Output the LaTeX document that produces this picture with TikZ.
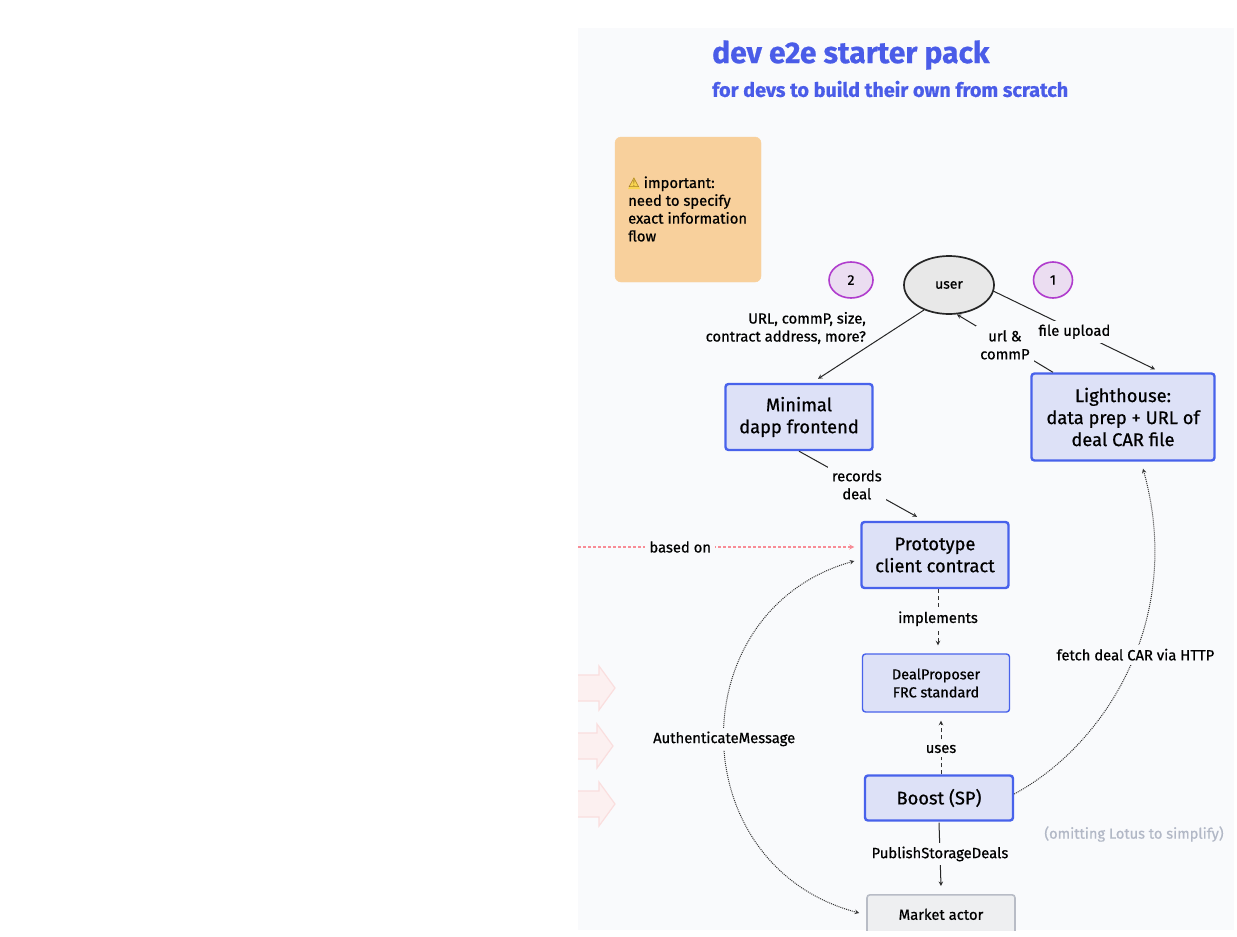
\documentclass[tikz,border=0pt]{standalone}
\usepackage{fontspec}
\usepackage{xcolor}
\usetikzlibrary{shapes.geometric}
\setmainfont[FakeBold=0.7]{Fira Sans}
\newfontfamily\markfont[FakeBold=0.7]{Fira Sans}
\newfontfamily\symbolfont{DejaVu Sans}
\definecolor{pagebg}{RGB}{249,250,252}
\definecolor{titleblue}{RGB}{74,92,232}
\definecolor{boxblue}{RGB}{221,225,247}
\definecolor{edgeblue}{RGB}{72,98,235}
\definecolor{noteorange}{RGB}{248,208,156}
\definecolor{warnyellow}{RGB}{248,212,80}
\definecolor{warnmark}{RGB}{150,110,30}
\definecolor{badgefill}{RGB}{235,221,241}
\definecolor{badgeedge}{RGB}{176,60,205}
\definecolor{usergrey}{RGB}{232,232,232}
\definecolor{actorfill}{RGB}{238,239,241}
\definecolor{actoredge}{RGB}{184,188,198}
\definecolor{basedred}{RGB}{248,140,150}
\definecolor{pinkfill}{RGB}{252,240,240}
\definecolor{pinkedge}{RGB}{250,222,222}
\definecolor{omitgrey}{RGB}{178,184,198}
\tikzset{
  bigbox/.style={draw=edgeblue, fill=boxblue, line width=2.4pt, rounded corners=3pt, align=center, font=\markfont\fontsize{18.3}{22}\selectfont, inner sep=0pt},
  thinbox/.style={draw=edgeblue, fill=boxblue, line width=1.4pt, rounded corners=3pt, align=center, font=\fontsize{14.5}{18}\selectfont, inner sep=0pt},
  badge/.style={ellipse, draw=badgeedge, fill=badgefill, line width=1.6pt, inner sep=0pt, font=\fontsize{14}{15}\selectfont},
  edgelabel/.style={fill=pagebg, align=center, inner sep=4pt, yshift=-1.5pt, font=\fontsize{14.8}{18}\selectfont},
  flow/.style={->, >=stealth, line width=1pt, draw=black!85},
  dashflow/.style={->, >=stealth, dash pattern=on 4pt off 3pt, line width=1pt, draw=black!80},
  dotflow/.style={>=stealth, densely dotted, line width=1pt, draw=black!80},
}
\begin{document}
\begin{tikzpicture}[x=1pt, y=-1pt]
  \useasboundingbox (0,0) rectangle (1237,937);
  % page
  \fill[white] (0,0) rectangle (1237,937);
  \fill[pagebg] (578,28) rectangle (1234,930);
  \begin{scope}
    \clip (578,28) rectangle (1234,930);

    % pink arrows coming in from the left
    \foreach \tipx/\ypos in {615/688, 613/746, 615/804} {
      \draw[draw=pinkedge, fill=pinkfill, line width=1.2pt]
        (570,\ypos-13) -- (\tipx-16,\ypos-13) -- (\tipx-16,\ypos-22) -- (\tipx,\ypos)
        -- (\tipx-16,\ypos+22) -- (\tipx-16,\ypos+13) -- (570,\ypos+13);
    }

    % title
    \node[anchor=west, inner sep=0pt, text=titleblue, font=\fontsize{30}{34}\selectfont\bfseries] (title) at (712,55) {dev e2e starter pack};
    \node[anchor=west, inner sep=0pt, text=titleblue, font=\fontsize{19.8}{24}\selectfont\bfseries] (subtitle) at (712,89) {for devs to build their own from scratch};

    % note
    \draw[fill=noteorange, draw=noteorange, rounded corners=6pt] (615,137) rectangle (761,282);
    \fill[warnyellow] (628,189) -- (640,189) -- (634,177) -- cycle;
    \node[anchor=west, align=left, inner sep=0pt, font=\fontsize{14.8}{17.8}\selectfont] (note) at (628,209) {{\symbolfont\fontsize{13}{15}\selectfont\textcolor{warnmark}{⚠}} important:\\need to specify\\exact information\\flow};

    % user and badges
    \node[ellipse, draw=black!85, fill=usergrey, line width=1.7pt, minimum width=90pt, minimum height=58pt, inner sep=0pt, font=\fontsize{14}{15}\selectfont] (user) at (949,285) {user};
    \node[badge, minimum width=44pt, minimum height=36pt] (two) at (851,280) {2};
    \node[badge, minimum width=39pt, minimum height=36pt] (one) at (1053,280) {1};

    % main boxes
    \node[bigbox, minimum width=147pt, minimum height=66pt] (frontend) at (799,417) {Minimal\\dapp frontend};
    \node[bigbox, minimum width=183pt, minimum height=87pt] (lighthouse) at (1123,417) {Lighthouse:\\data prep + URL of\\deal CAR file};
    \node[bigbox, minimum width=147pt, minimum height=66pt] (contract) at (935,555) {Prototype\\client contract};
    \node[thinbox, minimum width=147pt, minimum height=58pt] (proposer) at (936,683) {DealProposer\\FRC standard};
    \node[bigbox, minimum width=148pt, minimum height=45pt] (boost) at (939,798) {Boost (SP)};
    \node[draw=actoredge, fill=actorfill, line width=1.6pt, rounded corners=3pt, anchor=north, minimum width=148pt, inner ysep=15pt, text height=10pt, text depth=30pt, font=\fontsize{14.8}{16}\selectfont] (actor) at (941,894) {Market actor};

    % free end of the red line
    \coordinate (basedstart) at (578,547);

    % connectors
    \draw[flow] (user.-135) -- ([xshift=19pt, yshift=4pt]frontend.north);
    \draw[flow] (user.-8) -- node[edgelabel, pos=0.5] (upload) {file upload} ([xshift=32pt, yshift=3pt]lighthouse.north);
    \draw[flow] ([xshift=-70pt]lighthouse.north) -- node[edgelabel, pos=0.5] (urlcommp) {url \&\\commP} (user.-75);
    \draw[flow] (frontend.south) -- node[edgelabel, pos=0.49] (records) {records\\deal} ([xshift=-18pt, yshift=4pt]contract.north);
    \draw[->, >=stealth, draw=basedred, line width=1.2pt, dash pattern=on 3pt off 2pt] (basedstart) -- node[edgelabel, text=black, pos=0.37, yshift=1.5pt] (based) {based on} ([xshift=-6pt, yshift=8pt]contract.west);
    \draw[dashflow] ([xshift=3pt]contract.south) -- node[edgelabel] (implements) {implements} ([xshift=2pt, yshift=8pt]proposer.north);
    \draw[dashflow] ([xshift=2pt]boost.north) -- node[edgelabel] (uses) {uses} ([xshift=5pt, yshift=-8pt]proposer.south);
    \draw[flow] ([yshift=-1pt]boost.south) -- node[edgelabel, pos=0.47] (publish) {PublishStorageDeals} ([yshift=8pt]actor.north);
    \draw[dotflow, ->] ([yshift=4pt]boost.east) .. controls (1105,745) and (1185,620) .. node[edgelabel, pos=0.548] (fetch) {fetch deal CAR via HTTP} ([xshift=20pt, yshift=-7pt]lighthouse.south);
    \draw[dotflow, <->] ([xshift=-6pt, yshift=-6pt]contract.west) .. controls (680,610) and (680,865) .. node[edgelabel, pos=0.5] (authmsg) {AuthenticateMessage} ([xshift=-7pt, yshift=-19pt]actor.north west);

    % aside, edge labels
    \node[text=omitgrey, font=\fontsize{14.6}{16}\selectfont] (omit) at (1134,834) {(omitting Lotus to simplify)};
    \node[align=right, anchor=east, inner sep=0pt, font=\fontsize{14.8}{18}\selectfont] (urlnote) at (866,328) {URL, commP, size,\\contract address, more?};
  \end{scope}
\end{tikzpicture}
\end{document}
